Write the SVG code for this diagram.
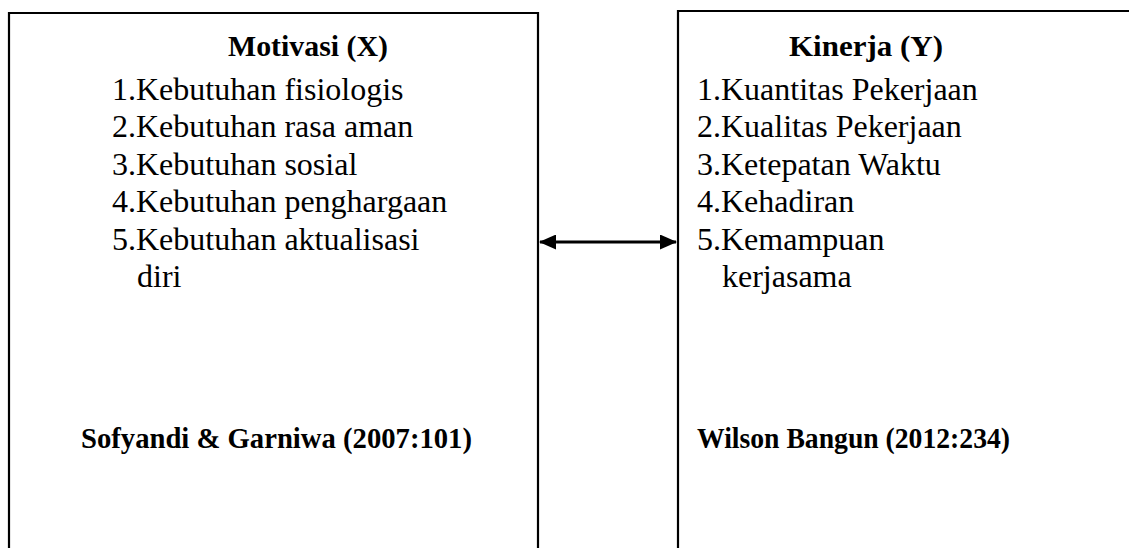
<svg xmlns="http://www.w3.org/2000/svg" width="1129" height="548" viewBox="0 0 1129 548">
<style>
.box{fill:none;stroke:#000;stroke-width:2.2}
.t{font-family:"Liberation Serif","Times New Roman",serif;font-size:32px;fill:#000}
.b{font-family:"Liberation Serif","Times New Roman",serif;font-size:30px;font-weight:bold;fill:#000}
.conn{stroke:#000;stroke-width:3;fill:none}
</style>
<defs>
<marker id="ah" viewBox="0 0 17 15" refX="16" refY="7.5" markerWidth="17" markerHeight="15" markerUnits="userSpaceOnUse" orient="auto-start-reverse">
<path d="M0,0 L17,7.5 L0,15 z" fill="#000"/>
</marker>
</defs>
<rect width="1129" height="548" fill="#fff"/>
<g id="node-motivasi">
<path class="box" d="M9,560 L9,13 L538,13 L538,560"/>
<text class="b" x="228" y="56" textLength="160" lengthAdjust="spacingAndGlyphs">Motivasi  (X)</text>
<text class="t" x="112" y="100">1.Kebutuhan fisiologis</text>
<text class="t" x="112" y="137.4">2.Kebutuhan rasa aman</text>
<text class="t" x="112" y="174.8">3.Kebutuhan sosial</text>
<text class="t" x="112" y="212.2">4.Kebutuhan penghargaan</text>
<text class="t" x="112" y="249.6">5.Kebutuhan aktualisasi</text>
<text class="t" x="137" y="287">diri</text>
<text class="b" x="81" y="448" textLength="391" lengthAdjust="spacingAndGlyphs">Sofyandi &amp; Garniwa (2007:101)</text>
</g>
<g id="node-kinerja">
<path class="box" d="M678,560 L678,11 L1140,11"/>
<text class="b" x="789" y="56" textLength="154" lengthAdjust="spacingAndGlyphs">Kinerja (Y)</text>
<text class="t" x="697" y="100">1.Kuantitas Pekerjaan</text>
<text class="t" x="697" y="137.4">2.Kualitas Pekerjaan</text>
<text class="t" x="697" y="174.8">3.Ketepatan Waktu</text>
<text class="t" x="697" y="212.2">4.Kehadiran</text>
<text class="t" x="697" y="249.6">5.Kemampuan</text>
<text class="t" x="722" y="287">kerjasama</text>
<text class="b" x="697" y="448" textLength="313" lengthAdjust="spacingAndGlyphs">Wilson Bangun (2012:234)</text>
</g>
<g id="connectors">
<line class="conn" x1="540" y1="242" x2="676" y2="242" marker-start="url(#ah)" marker-end="url(#ah)"/>
</g>
</svg>
